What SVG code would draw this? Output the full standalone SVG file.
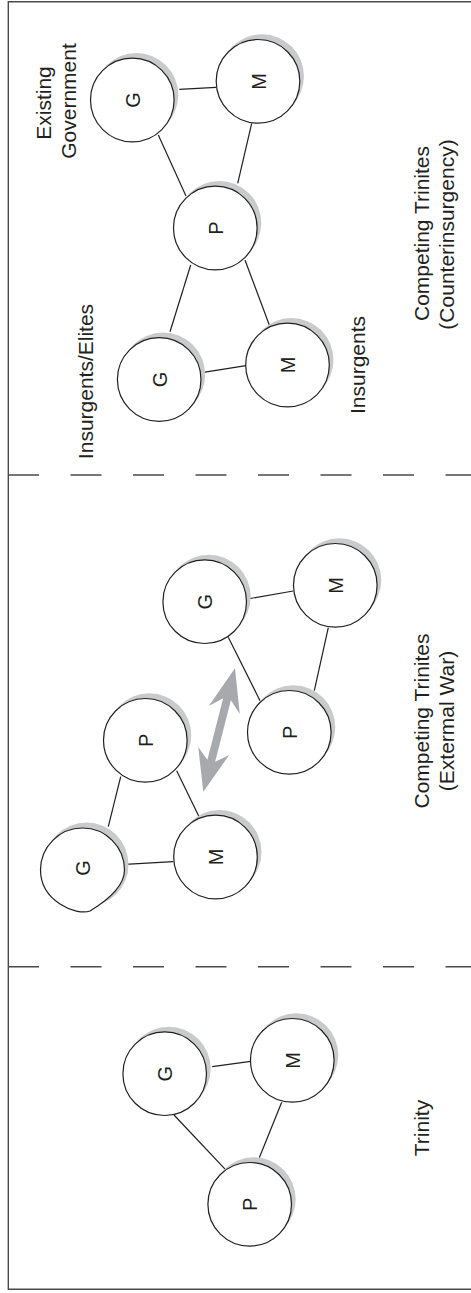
<svg xmlns="http://www.w3.org/2000/svg" width="471" height="1293" viewBox="0 0 471 1293">
<defs>
<style>
.frame{fill:none;stroke:#4a4a4a;stroke-width:1.4}
.dash{fill:none;stroke:#4a4a4a;stroke-width:1.4;stroke-dasharray:31 31.5}
.edge{fill:none;stroke:#231f20;stroke-width:1.2}
.shadow{fill:#c9cacc;stroke:none}
.node{fill:#fff;stroke:#231f20;stroke-width:1.2}
.nl{font-family:"Liberation Sans",Arial,Helvetica,sans-serif;font-size:20px;fill:#231f20;text-anchor:middle}
.lbl{font-family:"Liberation Sans",Arial,Helvetica,sans-serif;font-size:21px;fill:#231f20;text-anchor:middle}
.arrow{fill:#a7a9ac;stroke:none}
</style>
</defs>
<rect width="471" height="1293" fill="#fff"/>
<g id="frame">
<path class="frame" d="M480 1.7 H8.3 V1289.3 H480"/>
<path class="dash" d="M8 475 H471"/>
<path class="dash" d="M8 966.7 H471"/>
</g>
<g id="connectors">
<line class="edge" x1="179.3" y1="89.3" x2="216" y2="87.3"/>
<line class="edge" x1="158.3" y1="135" x2="186" y2="196"/>
<line class="edge" x1="251.7" y1="123.3" x2="237.7" y2="183.3"/>
<line class="edge" x1="190.7" y1="265" x2="170" y2="331.7"/>
<line class="edge" x1="245" y1="260" x2="269.3" y2="325"/>
<line class="edge" x1="201.7" y1="372.7" x2="246" y2="365.7"/>
<line class="edge" x1="247.3" y1="599" x2="293.3" y2="591"/>
<line class="edge" x1="228.3" y1="637.3" x2="260" y2="700.7"/>
<line class="edge" x1="328.3" y1="627.7" x2="314.3" y2="690.7"/>
<line class="edge" x1="120.7" y1="776.7" x2="108.3" y2="826.7"/>
<line class="edge" x1="176.7" y1="770.7" x2="199.3" y2="817.3"/>
<line class="edge" x1="125" y1="864.3" x2="173.3" y2="861.7"/>
<line class="edge" x1="212.3" y1="1066.7" x2="250.7" y2="1061.3"/>
<line class="edge" x1="174" y1="1115" x2="225.3" y2="1169.3"/>
<line class="edge" x1="281.7" y1="1102.3" x2="259.3" y2="1157.7"/>
<path id="war-arrow" class="arrow" transform="translate(203.3 791.7) rotate(-75.6)" d="M0 0 L42 -16 L32 -4 L95.4 -4 L84.4 -16 L127.4 0 L84.4 16 L95.4 4 L32 4 L42 16 Z"/>
</g>
<g id="ci-gov-G">
<circle class="shadow" cx="136.3" cy="95" r="42"/>
<circle class="node" cx="132.3" cy="100" r="41.8"/>
<text class="nl" transform="translate(139.8 100) rotate(-90)">G</text>
</g>
<g id="ci-gov-M">
<circle class="shadow" cx="262" cy="76.3" r="42"/>
<circle class="node" cx="258" cy="81.3" r="41.8"/>
<text class="nl" transform="translate(265.5 81.3) rotate(-90)">M</text>
</g>
<g id="ci-P">
<circle class="shadow" cx="219.3" cy="223" r="42"/>
<circle class="node" cx="215.3" cy="228" r="41.8"/>
<text class="nl" transform="translate(222.8 228) rotate(-90)">P</text>
</g>
<g id="ci-ins-G">
<circle class="shadow" cx="163.2" cy="374.5" r="42"/>
<circle class="node" cx="159.2" cy="379.5" r="41.8"/>
<text class="nl" transform="translate(166.7 379.5) rotate(-90)">G</text>
</g>
<g id="ci-ins-M">
<circle class="shadow" cx="291.5" cy="360" r="42"/>
<circle class="node" cx="287.5" cy="365" r="41.8"/>
<text class="nl" transform="translate(295 365) rotate(-90)">M</text>
</g>
<g id="ew-right-G">
<circle class="shadow" cx="208.7" cy="596.7" r="42"/>
<circle class="node" cx="204.7" cy="601.7" r="41.8"/>
<text class="nl" transform="translate(212.2 601.7) rotate(-90)">G</text>
</g>
<g id="ew-right-M">
<circle class="shadow" cx="339.3" cy="580.3" r="42"/>
<circle class="node" cx="335.3" cy="585.3" r="41.8"/>
<text class="nl" transform="translate(342.8 585.3) rotate(-90)">M</text>
</g>
<g id="ew-right-P">
<circle class="shadow" cx="293.3" cy="727.3" r="42"/>
<circle class="node" cx="289.3" cy="732.3" r="41.8"/>
<text class="nl" transform="translate(296.8 732.3) rotate(-90)">P</text>
</g>
<g id="ew-left-P">
<circle class="shadow" cx="149.3" cy="735.3" r="42"/>
<circle class="node" cx="145.3" cy="740.3" r="41.8"/>
<text class="nl" transform="translate(152.8 740.3) rotate(-90)">P</text>
</g>
<g id="ew-left-M">
<circle class="shadow" cx="219.5" cy="852" r="42"/>
<circle class="node" cx="215.5" cy="857" r="41.8"/>
<text class="nl" transform="translate(223 857) rotate(-90)">M</text>
</g>
<g id="ew-left-G">
<circle class="shadow" cx="86.5" cy="864.5" r="42"/>
<path class="node" d="M40.5 870 A42 42 0 0 1 124.5 870 C124.5 884 113 897 90 911 C76 916 40.5 901 40.5 870 Z"/>
<text class="nl" transform="translate(90 868) rotate(-90)">G</text>
</g>
<g id="tr-G">
<circle class="shadow" cx="168.7" cy="1068.7" r="42"/>
<circle class="node" cx="164.7" cy="1073.7" r="41.8"/>
<text class="nl" transform="translate(172.2 1073.7) rotate(-90)">G</text>
</g>
<g id="tr-M">
<circle class="shadow" cx="296.3" cy="1055.3" r="42"/>
<circle class="node" cx="292.3" cy="1060.3" r="41.8"/>
<text class="nl" transform="translate(299.8 1060.3) rotate(-90)">M</text>
</g>
<g id="tr-P">
<circle class="shadow" cx="253.7" cy="1199.3" r="42"/>
<circle class="node" cx="249.7" cy="1204.3" r="41.8"/>
<text class="nl" transform="translate(257.2 1204.3) rotate(-90)">P</text>
</g>
<g id="labels">
<text class="lbl" transform="translate(50.5 103) rotate(-90)">Existing</text>
<text class="lbl" transform="translate(76 101) rotate(-90)">Government</text>
<text class="lbl" transform="translate(92.7 381.5) rotate(-90)">Insurgents/Elites</text>
<text class="lbl" transform="translate(365 365) rotate(-90)">Insurgents</text>
<text class="lbl" transform="translate(428.5 233.5) rotate(-90)">Competing Trinites</text>
<text class="lbl" transform="translate(454 234.5) rotate(-90)">(Counterinsurgency)</text>
<text class="lbl" transform="translate(428.5 721) rotate(-90)">Competing Trinites</text>
<text class="lbl" transform="translate(454 721) rotate(-90)">(Extermal War)</text>
<text class="lbl" transform="translate(429 1128) rotate(-90)">Trinity</text>
</g>
</svg>
